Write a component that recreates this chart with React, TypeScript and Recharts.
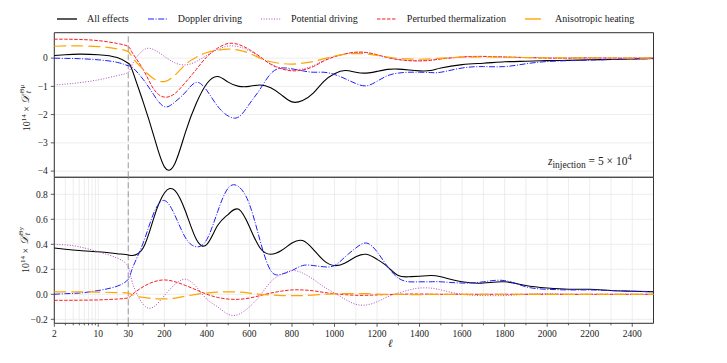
import React from 'react';
import { LineChart, Line, XAxis, YAxis, CartesianGrid, ReferenceLine, ReferenceArea } from 'recharts';

// multipole moments (shared by both panels)
const ell = [2, 3, 5, 10, 20, 30,
  50, 100, 150, 200, 250, 300, 350, 400, 450, 500, 550, 600, 650, 700, 750, 800, 850, 900, 950, 1000,
  1050, 1100, 1150, 1200, 1250, 1300, 1350, 1400, 1450, 1500,
  1600, 1700, 1800, 1900, 2000, 2100, 2200, 2300, 2400, 2500];

// top panel: 10^14 x D_l^{Theta mu}
const muAll = [0.09, 0.12, 0.14, 0.12, 0.02, -0.18,
  -0.45, -1.55, -2.75, -3.85, -3.72, -2.6, -1.6, -0.9, -0.65, -0.85, -1.0, -1.0, -0.95, -1.05, -1.3, -1.55, -1.5, -1.24, -0.82, -0.55,
  -0.44, -0.5, -0.53, -0.47, -0.4, -0.39, -0.42, -0.45, -0.44, -0.35,
  -0.23, -0.18, -0.13, -0.11, -0.09, -0.08, -0.06, -0.05, -0.03, -0.01];
const muDoppler = [0.0, -0.01, -0.02, -0.06, -0.15, -0.27,
  -0.33, -0.75, -1.3, -1.72, -1.55, -1.2, -0.86, -1.15, -1.7, -2.05, -2.08, -1.62, -1.1, -0.55, -0.35, -0.38, -0.45, -0.5, -0.5, -0.58,
  -0.73, -0.9, -0.98, -0.82, -0.62, -0.53, -0.5, -0.5, -0.51, -0.5,
  -0.35, -0.3, -0.3, -0.2, -0.12, -0.09, -0.07, -0.05, -0.03, -0.02];
const muPotential = [-0.95, -0.92, -0.87, -0.77, -0.62, -0.5,
  -0.2, 0.28, 0.3, 0.06, -0.17, -0.24, -0.12, 0.1, 0.3, 0.43, 0.4, 0.26, 0.03, -0.2, -0.36, -0.42, -0.38, -0.27, -0.08, 0.06,
  0.15, 0.2, 0.19, 0.11, 0.02, -0.05, -0.08, -0.09, -0.07, -0.03,
  0.04, 0.06, 0.04, 0.02, 0.01, 0.0, 0.0, 0.0, 0.0, 0.0];
const muThermal = [0.67, 0.67, 0.66, 0.62, 0.52, 0.41,
  0.18, -0.4, -1.1, -1.38, -1.25, -0.85, -0.4, 0.05, 0.35, 0.52, 0.48, 0.3, 0.05, -0.22, -0.38, -0.45, -0.42, -0.3, -0.1, 0.05,
  0.15, 0.21, 0.2, 0.12, 0.02, -0.05, -0.09, -0.1, -0.08, -0.03,
  0.04, 0.06, 0.04, 0.02, 0.0, 0.0, 0.01, 0.0, 0.0, 0.0];
const muAniso = [0.42, 0.43, 0.43, 0.41, 0.33, 0.23,
  0.02, -0.4, -0.73, -0.83, -0.6, -0.22, 0.03, 0.2, 0.28, 0.32, 0.28, 0.17, 0.0, -0.13, -0.19, -0.21, -0.18, -0.12, -0.02, 0.07,
  0.14, 0.16, 0.15, 0.1, 0.04, -0.01, -0.03, -0.04, -0.03, 0.0,
  0.03, 0.04, 0.03, 0.02, 0.01, 0.01, 0.01, 0.0, 0.0, 0.0];

// bottom panel: 10^14 x D_l^{Theta y}
const yAll = [0.37, 0.36, 0.35, 0.34, 0.325, 0.315,
  0.31, 0.37, 0.61, 0.81, 0.83, 0.66, 0.44, 0.4, 0.55, 0.64, 0.68, 0.54, 0.37, 0.32, 0.35, 0.41, 0.43, 0.36, 0.27, 0.23,
  0.25, 0.3, 0.32, 0.28, 0.22, 0.15, 0.14, 0.145, 0.15, 0.14,
  0.1, 0.09, 0.1, 0.07, 0.05, 0.04, 0.04, 0.03, 0.025, 0.02];
const yDoppler = [0.0, 0.005, 0.01, 0.03, 0.065, 0.12,
  0.21, 0.41, 0.65, 0.75, 0.63, 0.45, 0.38, 0.44, 0.66, 0.85, 0.86, 0.72, 0.43, 0.19, 0.16, 0.19, 0.23, 0.23, 0.22, 0.23,
  0.3, 0.37, 0.41, 0.34, 0.22, 0.13, 0.1, 0.1, 0.1, 0.1,
  0.09, 0.1, 0.11, 0.06, 0.04, 0.035, 0.035, 0.03, 0.025, 0.02];
const yPotential = [0.4, 0.395, 0.38, 0.34, 0.29, 0.22,
  0.09, -0.08, -0.1, -0.01, 0.08, 0.12, 0.06, -0.04, -0.1, -0.16, -0.16, -0.1, -0.01, 0.1, 0.16, 0.19, 0.17, 0.12, 0.06, 0.01,
  -0.04, -0.08, -0.085, -0.06, -0.02, 0.01, 0.035, 0.05, 0.05, 0.035,
  0.0, -0.01, -0.01, 0.0, 0.005, 0.0, 0.0, 0.0, 0.0, 0.0];
const yThermal = [-0.048, -0.048, -0.047, -0.045, -0.038, -0.028,
  0.0, 0.06, 0.1, 0.115, 0.1, 0.07, 0.035, 0.0, -0.025, -0.038, -0.04, -0.03, -0.01, 0.01, 0.025, 0.035, 0.035, 0.028, 0.015, 0.005,
  -0.003, -0.008, -0.008, -0.005, -0.002, 0.0, 0.002, 0.002, 0.001, 0.0,
  0.0, 0.0, 0.0, 0.0, 0.0, 0.0, 0.0, 0.0, 0.0, 0.0];
const yAniso = [0.02, 0.02, 0.02, 0.018, 0.014, 0.01,
  -0.005, -0.025, -0.035, -0.037, -0.03, -0.015, 0.0, 0.01, 0.018, 0.02, 0.018, 0.01, 0.0, -0.006, -0.01, -0.011, -0.01, -0.006, 0.0, 0.004,
  0.006, 0.006, 0.005, 0.002, 0.0, -0.001, -0.002, -0.002, -0.001, 0.0,
  0.0, 0.0, 0.0, 0.0, 0.0, 0.0, 0.0, 0.0, 0.0, 0.0];

const majorEll = [2, 10, 30, 200, 400, 600, 800, 1000, 1200, 1400, 1600, 1800, 2000, 2200, 2400];
const minorEll = [3, 4, 5, 6, 7, 8, 9, 20, 100, 300, 500, 700, 900, 1100, 1300, 1500, 1700, 1900, 2100, 2300];
const muTicks = [-4, -3, -2, -1, 0];
const yTicks = [-0.2, 0, 0.2, 0.4, 0.6, 0.8];

const series = [
  { key: 'all', name: 'All effects', color: '#000000', dash: undefined as string | undefined, width: 1.1 },
  { key: 'dop', name: 'Doppler driving', color: '#1f1fff', dash: '6 1.6 1 1.6', width: 1 },
  { key: 'pot', name: 'Potential driving', color: '#b44cc4', dash: '1 1.6', width: 1 },
  { key: 'th', name: 'Perturbed thermalization', color: '#ff1a1a', dash: '3.5 1.5', width: 1 },
  { key: 'an', name: 'Anisotropic heating', color: '#ffa500', dash: '12 5', width: 1.2 },
];

const FONT = "'Liberation Serif', 'Times New Roman', Times, 'DejaVu Serif', serif";

// hybrid axis: logarithmic for l <= 30, linear above
const LOGW = 74;
const K = 0.2128;
const tOf = (l: number) => (l <= 30 ? (Math.log10(l / 2) / Math.log10(15)) * LOGW : LOGW + (l - 30) * K);
const TMAX = tOf(2500);

const tickDefs = [
  ...majorEll.map((l) => ({ l, major: true })),
  ...minorEll.map((l) => ({ l, major: false })),
]
  .map((d) => ({ ...d, t: tOf(d.l) }))
  .sort((a, b) => a.t - b.t);
const xTicks = tickDefs.map((d) => d.t);

const muRows = ell.map((l, i) => ({
  x: tOf(l), all: muAll[i], dop: muDoppler[i], pot: muPotential[i], th: muThermal[i], an: muAniso[i],
}));
const yRows = ell.map((l, i) => ({
  x: tOf(l), all: yAll[i], dop: yDoppler[i], pot: yPotential[i], th: yThermal[i], an: yAniso[i],
}));

const MU_DOMAIN: [number, number] = [-4.22, 0.9];
const Y_DOMAIN: [number, number] = [-0.232, 0.936];

const minus = (s: string) => s.replace('-', '\u2212');

const XTick = (props: any) => {
  const { x, y, payload } = props;
  const def = tickDefs.find((d) => Math.abs(d.t - payload.value) < 1e-6);
  const major = def ? def.major : false;
  return (
    <g>
      <line x1={x} x2={x} y1={y} y2={y + (major ? 3.5 : 2)} stroke="#333" strokeWidth={0.8} />
      {major && def && (
        <text x={x} y={y + 13.5} textAnchor="middle" fontSize={9.5} fill="#222" style={{ fontFamily: FONT }}>
          {String(def.l)}
        </text>
      )}
    </g>
  );
};

const YTick = (props: any) => {
  const { x, y, payload, decimals } = props;
  const v: number = payload.value;
  const s = decimals ? v.toFixed(1) : String(v);
  return (
    <text x={x} y={y + 3.2} textAnchor="end" fontSize={9.5} fill="#222" style={{ fontFamily: FONT }}>
      {minus(s)}
    </text>
  );
};

const renderLines = () =>
  series.map((s) => (
    <Line
      key={s.key}
      dataKey={s.key}
      type="natural"
      stroke={s.color}
      strokeWidth={s.width}
      strokeDasharray={s.dash}
      dot={false}
      activeDot={false}
      isAnimationActive={false}
    />
  ));

const LegendSample = ({ color, dash, width }: { color: string; dash?: string; width: number }) => (
  <svg width={20} height={8} style={{ marginRight: 10, display: 'block' }}>
    <line x1={0} x2={20} y1={4} y2={4} stroke={color} strokeWidth={width + 0.2} strokeDasharray={dash === '12 5' ? '16 4' : dash} />
  </svg>
);

const DLabel = ({ sup }: { sup: string }) => (
  <span style={{ display: 'inline-flex', alignItems: 'center', whiteSpace: 'nowrap', fontSize: 10 }}>
    <span>
      10<sup style={{ fontSize: 7 }}>14</sup>&nbsp;×&nbsp;
    </span>
    <span style={{ fontStyle: 'italic', fontSize: 11 }}>𝒟</span>
    <span style={{ display: 'inline-flex', flexDirection: 'column', fontSize: 7, lineHeight: 1, marginLeft: 1 }}>
      <span>{sup}</span>
      <span style={{ fontStyle: 'italic' }}>ℓ</span>
    </span>
  </span>
);

export default function App() {
  return (
    <div
      style={{
        position: 'absolute', left: 0, top: 0, width: 727, height: 363, background: '#fff',
        fontFamily: FONT, color: '#222', overflow: 'hidden',
      }}
    >
      {/* legend */}
      <div style={{ position: 'absolute', left: 57, top: 12, display: 'flex', alignItems: 'center', fontSize: 10, lineHeight: '14px', whiteSpace: 'nowrap' }}>
        {series.map((s) => (
          <div key={s.key} style={{ display: 'flex', alignItems: 'center', marginRight: 19 }}>
            <LegendSample color={s.color} dash={s.dash} width={s.width} />
            <span>{s.name}</span>
          </div>
        ))}
      </div>

      {/* top panel */}
      <div style={{ position: 'absolute', left: 0, top: 0 }}>
        <LineChart width={727} height={180} data={muRows} margin={{ top: 32.7, right: 73.5, bottom: 2.7, left: 0 }}>
          <CartesianGrid stroke="#e9e9e9" strokeWidth={0.8} />
          <XAxis dataKey="x" type="number" domain={[0, TMAX]} ticks={xTicks} interval={0} height={0} tick={false} tickLine={false} axisLine={false} />
          <YAxis
            type="number" domain={MU_DOMAIN} ticks={muTicks} interval={0} width={54.3}
            tickSize={3.5} tickMargin={3} axisLine={false}
            tick={<YTick decimals={false} />} tickLine={{ stroke: '#333', strokeWidth: 0.8 }}
          />
          <ReferenceLine x={tOf(30)} stroke="#9a9a9a" strokeWidth={1} strokeDasharray="6 3" />
          {renderLines()}
          <ReferenceArea x1={0} x2={TMAX} y1={MU_DOMAIN[0]} y2={MU_DOMAIN[1]} fill="none" stroke="#333" strokeWidth={1} />
        </LineChart>
      </div>

      {/* bottom panel */}
      <div style={{ position: 'absolute', left: 0, top: 170 }}>
        <LineChart width={727} height={193} data={yRows} margin={{ top: 7.3, right: 73.5, bottom: 19.7, left: 0 }}>
          <CartesianGrid stroke="#e9e9e9" strokeWidth={0.8} />
          <XAxis dataKey="x" type="number" domain={[0, TMAX]} ticks={xTicks} interval={0} height={20} tickSize={0} tickMargin={0} tickLine={false} axisLine={false} tick={<XTick />} />
          <YAxis
            type="number" domain={Y_DOMAIN} ticks={yTicks} interval={0} width={54.3}
            tickSize={3.5} tickMargin={3} axisLine={false}
            tick={<YTick decimals={true} />} tickLine={{ stroke: '#333', strokeWidth: 0.8 }}
          />
          <ReferenceLine x={tOf(30)} stroke="#9a9a9a" strokeWidth={1} strokeDasharray="6 3" />
          {renderLines()}
          <ReferenceArea x1={0} x2={TMAX} y1={Y_DOMAIN[0]} y2={Y_DOMAIN[1]} fill="none" stroke="#333" strokeWidth={1} />
        </LineChart>
      </div>

      {/* axis titles and annotation */}
      <div style={{ position: 'absolute', left: 25, top: 108, transform: 'translate(-50%, -50%) rotate(-90deg)' }}>
        <DLabel sup="Θμ" />
      </div>
      <div style={{ position: 'absolute', left: 24, top: 250, transform: 'translate(-50%, -50%) rotate(-90deg)' }}>
        <DLabel sup="Θy" />
      </div>
      <div style={{ position: 'absolute', left: 388, top: 337, fontSize: 11, fontStyle: 'italic' }}>ℓ</div>
      <div style={{ position: 'absolute', left: 548, top: 154, fontSize: 11.5, lineHeight: '14px', whiteSpace: 'nowrap' }}>
        <span style={{ fontStyle: 'italic' }}>z</span>
        <span style={{ fontSize: 9.5, position: 'relative', top: 3 }}>injection</span>
        <span>&nbsp;= 5 × 10</span>
        <span style={{ fontSize: 8.5, position: 'relative', top: -5 }}>4</span>
      </div>
    </div>
  );
}
